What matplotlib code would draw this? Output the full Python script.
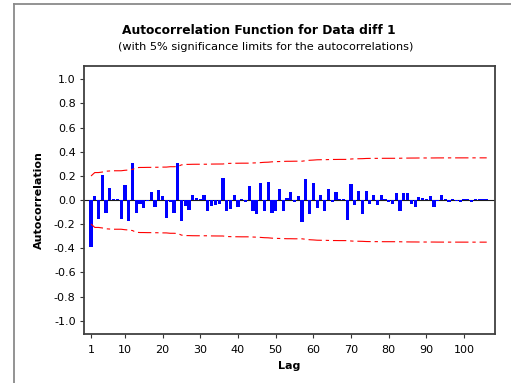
import numpy as np
import matplotlib
matplotlib.use("Agg")
import matplotlib.pyplot as plt
from matplotlib.lines import Line2D

# Sample autocorrelations of the first-differenced series, lags 1..106
acf_values = [
    -0.39, 0.03, -0.155, 0.205, -0.11, 0.096, 0.01, 0.01, -0.155, 0.123,
    -0.17, 0.31, -0.11, -0.033, -0.068, -0.01, 0.07, -0.055, 0.08, 0.035,
    -0.145, -0.015, -0.11, 0.31, -0.17, -0.05, -0.08, 0.045, 0.015, 0.01,
    0.045, -0.09, -0.05, -0.04, -0.03, 0.18, -0.09, -0.075, 0.045, -0.06,
    0.01, -0.02, 0.115, -0.095, -0.12, 0.137, -0.09, 0.15, -0.11, -0.095,
    0.087, -0.095, 0.02, 0.068, -0.02, 0.035, -0.18, 0.17, -0.12, 0.14,
    -0.07, 0.04, -0.09, 0.09, -0.015, 0.065, 0.01, 0.01, -0.165, 0.13,
    -0.04, 0.075, -0.12, 0.075, -0.033, 0.045, -0.04, 0.045, 0.01, -0.02,
    -0.03, 0.058, -0.087, 0.055, 0.055, -0.03, -0.06, 0.027, 0.014, 0.01,
    0.035, -0.06, -0.005, 0.045, 0.005, -0.02, 0.005, -0.01, -0.02, 0.01,
    0.01, -0.02, 0.01, 0.01, 0.005, 0.005,
]
n_obs = 97  # length of the differenced series

x_ticks = [1, 10, 20, 30, 40, 50, 60, 70, 80, 90, 100]
y_ticks = [1.0, 0.8, 0.6, 0.4, 0.2, 0.0, -0.2, -0.4, -0.6, -0.8, -1.0]

title = "Autocorrelation Function for Data diff 1"
subtitle = "(with 5% significance limits for the autocorrelations)"

r = np.array(acf_values)
lags = np.arange(1, len(r) + 1)

# Bartlett 5% significance limits
cum_sq = np.concatenate([[0.0], np.cumsum(r[:-1] ** 2)])
limits = 1.96 / np.sqrt(n_obs) * np.sqrt(1 + 2 * cum_sq)

plt.rcParams['font.family'] = ['DejaVu Sans']

W, H = 511, 383
fig = plt.figure(figsize=(W / 100, H / 100), dpi=100)
fig.patch.set_facecolor('white')

ax = fig.add_axes([84 / W, (H - 334) / H, 411 / W, 268 / H])
ax.bar(lags, r, width=0.85, color='#0000FF', linewidth=0, zorder=3)
ax.axhline(0, color='#1a1a1a', lw=0.8, zorder=2)
dash = (12, 3.5, 3, 3.5)
ax.plot(lags, limits, color='#FF0000', lw=0.8, dashes=dash, zorder=4)
ax.plot(lags, -limits, color='#FF0000', lw=0.8, dashes=dash, zorder=4)

ax.set_xlim(-0.86, 108.2)
ax.set_ylim(-1.11, 1.11)
ax.set_xticks(x_ticks)
ax.set_xticklabels([str(t) for t in x_ticks])
ax.set_yticks(y_ticks)
ax.set_yticklabels([f"{t:.1f}" for t in y_ticks])
ax.tick_params(axis='both', direction='out', length=3, width=0.8,
               color='#333333', labelsize=8, labelcolor='black')
ax.tick_params(axis='x', pad=5)
ax.tick_params(axis='y', pad=3)
ax.tick_params(top=False, right=False)
for s in ax.spines.values():
    s.set_color('#404040')
    s.set_linewidth(1.3)

ax.set_xlabel("Lag", fontsize=8, fontweight='bold', labelpad=4)
ax.set_ylabel("Autocorrelation", fontsize=8, fontweight='bold', labelpad=7)

fig.text(0.507, 1 - 30 / H, title, ha='center', va='center',
         fontsize=8.8, fontweight='bold')
fig.text(0.519, 1 - 47 / H, subtitle, ha='center', va='center', fontsize=8.1)

# Outer graph frame
fig.add_artist(Line2D([14 / W, 14 / W], [0, 1 - 4 / H], transform=fig.transFigure,
                      color='#8a8a8a', lw=1.3))
fig.add_artist(Line2D([14 / W, 1], [1 - 4 / H, 1 - 4 / H], transform=fig.transFigure,
                      color='#8a8a8a', lw=1.3))

fig.savefig("out.png", dpi=100, facecolor='white')
